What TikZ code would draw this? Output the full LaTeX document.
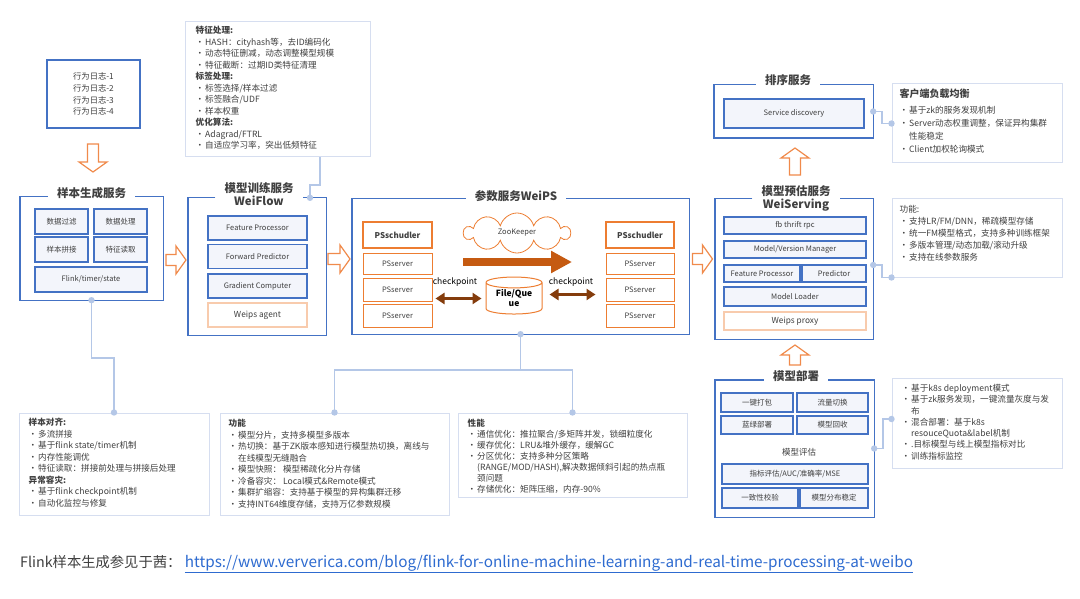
\documentclass[tikz,border=0pt]{standalone}
\usepackage{fontspec}
\setmainfont{Noto Sans CJK SC}
\usetikzlibrary{arrows.meta,shapes.geometric,shapes.symbols}

\definecolor{boxblue}{HTML}{4472C4}
\definecolor{cellfill}{HTML}{F3F5FB}
\definecolor{noteline}{HTML}{D6DEF0}
\definecolor{linkline}{HTML}{B4C7E7}
\definecolor{flowor}{HTML}{F08A4B}
\definecolor{psor}{HTML}{ED7D31}
\definecolor{paleor}{HTML}{F8CBAD}
\definecolor{bigor}{HTML}{C55A11}
\definecolor{ckbrown}{HTML}{843C0C}
\definecolor{ink}{HTML}{404040}
\definecolor{urlblue}{HTML}{2E6BD0}

\newcommand{\bul}[1]{\makebox[9.5pt][l]{•}#1}
\newcommand{\bcont}[1]{\hspace*{9.5pt}#1}

\tikzset{
  framebox/.style={inner sep=0pt},
  frame/.style={draw=boxblue, line width=1.4pt},
  frame title/.style={inner xsep=9pt, inner ysep=0pt, align=center, text=ink,
    font=\fontsize{11.5}{13.5}\selectfont\bfseries},
  logbox/.style={draw=boxblue, line width=1.3pt, inner sep=0pt, align=center,
    text=ink, font=\fontsize{8.3}{11.8}\selectfont},
  cell/.style={draw=boxblue, fill=cellfill, line width=1.1pt, inner sep=0pt,
    text=ink, font=\fontsize{7.5}{9}\selectfont},
  agentcell/.style={cell, draw=paleor, fill=white, font=\fontsize{8.3}{9}\selectfont},
  pscell/.style={draw=psor, fill=white, line width=1pt, inner sep=0pt,
    text=ink, font=\fontsize{7.5}{9}\selectfont},
  schcell/.style={pscell, line width=2.6pt, font=\fontsize{8}{9}\selectfont\bfseries},
  note/.style={draw=noteline, line width=1pt, inner sep=0pt},
  notetext/.style={anchor=north west, inner sep=0pt, align=left, text=ink,
    font=\fontsize{8.6}{11.5}\selectfont},
  link/.style={draw=linkline, line width=1.5pt},
  linkdot/.style={fill=linkline},
  ckpt/.style={draw=ckbrown, line width=3.5pt,
    {Triangle[length=9pt,width=11pt]}-{Triangle[length=9pt,width=11pt]}},
  flow arrow/.pic={
    \draw[draw=flowor, fill=white, line width=1.2pt, line join=miter]
      (-#1,-5.5) -- (#1-10,-5.5) -- (#1-10,-14) -- (#1,0) -- (#1-10,14)
      -- (#1-10,5.5) -- (-#1,5.5) -- cycle;
  }
}

\begin{document}
\begin{tikzpicture}[x=1pt,y=-1pt]

  \path[fill=white] (0,0) rectangle (1080,599);
  \useasboundingbox (0,0) rectangle (1080,599);

  % Define nodes
  % logs and sample service
  \node[logbox, minimum width=93, minimum height=68] (logs) at (93.5,94)
    {行为日志-1\\行为日志-2\\行为日志-3\\行为日志-4};
  \node[frame title] (smpt) at (91.5,193) {样本生成服务};
  \node[framebox, minimum width=143, minimum height=103] (smp) at (91.5,248.5) {};
  \node[cell, minimum width=53, minimum height=25] (filt) at (61.5,221.5) {数据过滤};
  \node[cell, minimum width=53, minimum height=25] (proc) at (120.5,221.5) {数据处理};
  \node[cell, minimum width=53, minimum height=25] (join) at (61.5,249.5) {样本拼接};
  \node[cell, minimum width=53, minimum height=25] (read) at (120.5,249.5) {特征读取};
  \node[cell, minimum width=112, minimum height=25] (flink) at (91,279.5) {Flink/timer/state};

  % training service
  \node[frame title] (wft) at (259,194) {模型训练服务\\WeiFlow};
  \node[framebox, minimum width=138, minimum height=137] (wf) at (257,266.5) {};
  \node[cell, minimum width=99, minimum height=24] (fp) at (257.5,228) {Feature Processor};
  \node[cell, minimum width=99, minimum height=24] (fwd) at (257.5,256.5) {Forward Predictor};
  \node[cell, minimum width=99, minimum height=24] (grad) at (257.5,286) {Gradient Computer};
  \node[agentcell, minimum width=99, minimum height=24] (agent) at (257.5,315) {Weips agent};

  % parameter service
  \node[frame title] (pst) at (516,196) {参数服务WeiPS};
  \node[framebox, minimum width=337, minimum height=135] (ps) at (520.5,266.5) {};
  \node[schcell, minimum width=69, minimum height=26] (schl) at (397.5,235) {PSschudler};
  \node[pscell, minimum width=69, minimum height=21] (psl1) at (397.5,263.5) {PSserver};
  \node[pscell, minimum width=69, minimum height=23] (psl2) at (397.5,289.5) {PSserver};
  \node[pscell, minimum width=69, minimum height=23] (psl3) at (397.5,315.5) {PSserver};
  \node[schcell, minimum width=68, minimum height=26] (schr) at (640,235) {PSschudler};
  \node[pscell, minimum width=68, minimum height=21] (psr1) at (640,263.5) {PSserver};
  \node[pscell, minimum width=68, minimum height=23] (psr2) at (640,289.5) {PSserver};
  \node[pscell, minimum width=68, minimum height=23] (psr3) at (640,315.5) {PSserver};
  \node[cloud, cloud puffs=10, aspect=2.6, draw=psor, line width=0.8pt, inner sep=0pt,
    minimum width=106, minimum height=40, text=ink, font=\fontsize{7.5}{9}\selectfont]
    (zk) at (517,233) {ZooKeeper};
  \node[cylinder, shape border rotate=90, aspect=0.3, draw=psor, line width=1pt,
    fill=white, inner sep=0pt, minimum width=56, minimum height=37, align=center,
    font=\fontsize{8.5}{10}\selectfont\bfseries] (fq) at (514,298.5) {File/Que\\ue};
  \node[text=black, font=\fontsize{8.5}{10}\selectfont] (ckl) at (455,282) {checkpoint};
  \node[text=black, font=\fontsize{8.5}{10}\selectfont] (ckr) at (571,282) {checkpoint};
  \coordinate (bigs) at (463,262);
  \coordinate (bige) at (572,262);

  % serving side
  \node[frame title] (rkt) at (788,80) {排序服务};
  \node[framebox, minimum width=159, minimum height=53] (rk) at (793.5,111.5) {};
  \node[cell, minimum width=140, minimum height=29] (sd) at (794,113.5) {Service discovery};

  \node[frame title] (wst) at (796,198.5) {模型预估服务\\WeiServing};
  \node[framebox, minimum width=158, minimum height=140] (ws) at (794,269) {};
  \node[cell, minimum width=142, minimum height=17] (rpc) at (795,225.5) {fb thrift rpc};
  \node[cell, minimum width=142, minimum height=17] (mvm) at (795,249.5) {Model/Version Manager};
  \node[cell, minimum width=76, minimum height=17] (wsfp) at (762,273.5) {Feature Processor};
  \node[cell, minimum width=64, minimum height=17] (pred) at (834,273.5) {Predictor};
  \node[cell, minimum width=142, minimum height=19] (ldr) at (795,296.5) {Model Loader};
  \node[agentcell, minimum width=142, minimum height=18] (proxy) at (795,321) {Weips proxy};

  \node[frame title] (dpt) at (796,376) {模型部署};
  \node[framebox, minimum width=159, minimum height=137] (dp) at (794.5,448.5) {};
  \node[cell, minimum width=72, minimum height=19] (pack) at (757,402.5) {一键打包};
  \node[cell, minimum width=71, minimum height=19] (flow) at (832.5,402.5) {流量切换};
  \node[cell, minimum width=72, minimum height=18] (bgd) at (757,425) {蓝绿部署};
  \node[cell, minimum width=71, minimum height=18] (recl) at (832.5,425) {模型回收};
  \node[text=ink, font=\fontsize{8.5}{10}\selectfont] (evl) at (799,452) {模型评估};
  \node[cell, minimum width=146, minimum height=20] (metric) at (795,474) {指标评估/AUC/准确率/MSE};
  \node[cell, minimum width=76, minimum height=20] (cons) at (760,498) {一致性校验};
  \node[cell, minimum width=68, minimum height=20] (dist) at (834,498) {模型分布稳定};

  % notes
  \node[note, minimum width=185, minimum height=135] (fex) at (277.5,89.5) {};
  \node[notetext] at ([shift={(11,4.5)}]fex.north west) {\textbf{特征处理:}\\
    \bul{HASH：cityhash等，去ID编码化}\\
    \bul{动态特征删减，动态调整模型规模}\\
    \bul{特征截断：过期ID类特征清理}\\
    \textbf{标签处理:}\\
    \bul{标签选择/样本过滤}\\
    \bul{标签融合/UDF}\\
    \bul{样本权重}\\
    \textbf{优化算法:}\\
    \bul{Adagrad/FTRL}\\
    \bul{自适应学习率，突出低频特征}};

  \node[note, minimum width=190, minimum height=102] (bl) at (114,464) {};
  \node[notetext] at ([shift={(10,5.5)}]bl.north west) {\textbf{样本对齐:}\\
    \bul{多流拼接}\\
    \bul{基于flink state/timer机制}\\
    \bul{内存性能调优}\\
    \bul{特征读取：拼接前处理与拼接后处理}\\
    \textbf{异常容灾:}\\
    \bul{基于flink checkpoint机制}\\
    \bul{自动化监控与修复}};

  \node[note, minimum width=229, minimum height=102] (bm) at (334.5,464) {};
  \node[notetext] at ([shift={(9,6.5)}]bm.north west) {\textbf{功能}\\
    \bul{模型分片，支持多模型多版本}\\
    \bul{热切换：基于ZK版本感知进行模型热切换，离线与}\\
    \bcont{在线模型无缝融合}\\
    \bul{模型快照： 模型稀疏化分片存储}\\
    \bul{冷备容灾： Local模式\&Remote模式}\\
    \bul{集群扩缩容：支持基于模型的异构集群迁移}\\
    \bul{支持INT64维度存储，支持万亿参数规模}};

  \node[note, minimum width=229, minimum height=84] (br) at (572.5,455) {};
  \node[notetext, font=\fontsize{8.6}{11}\selectfont] at ([shift={(10,6.5)}]br.north west) {\textbf{性能}\\
    \bul{通信优化：推拉聚合/多矩阵并发，锁细粒度化}\\
    \bul{缓存优化：LRU\&堆外缓存，缓解GC}\\
    \bul{分区优化：支持多种分区策略}\\
    \bcont{(RANGE/MOD/HASH),解决数据倾斜引起的热点瓶}\\
    \bcont{颈问题}\\
    \bul{存储优化：矩阵压缩，内存-90\%}};

  \node[note, minimum width=170, minimum height=79] (cli) at (977,123.5) {};
  \node[notetext, font=\fontsize{8.6}{13}\selectfont] at ([shift={(8,5)}]cli.north west)
    {{\fontsize{10}{12}\selectfont\bfseries 客户端负载均衡}\\[3pt]
    \bul{基于zk的服务发现机制}\\
    \bul{Server动态权重调整，保证异构集群}\\
    \bcont{性能稳定}\\
    \bul{Client加权轮询模式}};

  \node[note, minimum width=170, minimum height=78] (fn) at (977,238) {};
  \node[notetext, font=\fontsize{8.6}{12}\selectfont] at ([shift={(8,6.5)}]fn.north west) {功能:\\
    \bul{支持LR/FM/DNN，稀疏模型存储}\\
    \bul{统一FM模型格式，支持多种训练框架}\\
    \bul{多版本管理/动态加载/滚动升级}\\
    \bul{支持在线参数服务}};

  \node[note, minimum width=170, minimum height=90] (dpn) at (977,423) {};
  \node[notetext, font=\fontsize{8.6}{11.3}\selectfont] at ([shift={(10,6.5)}]dpn.north west) {%
    \bul{基于k8s deployment模式}\\
    \bul{基于zk服务发现，一键流量灰度与发}\\
    \bcont{布}\\
    \bul{混合部署：基于k8s}\\
    \bcont{resouceQuota\&label机制}\\
    \bul{.目标模型与线上模型指标对比}\\
    \bul{训练指标监控}};

  % footer
  \node[anchor=base west, inner sep=0pt, text=ink, font=\fontsize{14.3}{16}\selectfont]
    (src) at (20,567) {Flink样本生成参见于茜：};
  \node[anchor=base west, inner sep=0pt, text=urlblue, font=\fontsize{15.3}{17}\selectfont]
    (url) at ([xshift=3]src.base east) {\underline{https://www.ververica.com/blog/flink-for-online-machine-learning-and-real-time-processing-at-weibo}};

  % Frames with a gap for the title
  \draw[frame] (smpt.west |- smp.north) -- (smp.north west) -- (smp.south west)
    -- (smp.south east) -- (smp.north east) -- (smpt.east |- smp.north);
  \draw[frame] (wft.west |- wf.north) -- (wf.north west) -- (wf.south west)
    -- (wf.south east) -- (wf.north east) -- (wft.east |- wf.north);
  \draw[frame] (pst.west |- ps.north) -- (ps.north west) -- (ps.south west)
    -- (ps.south east) -- (ps.north east) -- (pst.east |- ps.north);
  \draw[frame] (rkt.west |- rk.north) -- (rk.north west) -- (rk.south west)
    -- (rk.south east) -- (rk.north east) -- (rkt.east |- rk.north);
  \draw[frame] (wst.west |- ws.north) -- (ws.north west) -- (ws.south west)
    -- (ws.south east) -- (ws.north east) -- (wst.east |- ws.north);
  \draw[frame] (dpt.west |- dp.north) -- (dp.north west) -- (dp.south west)
    -- (dp.south east) -- (dp.north east) -- (dpt.east |- dp.north);

  % Connect the nodes
  \pic[rotate=-90] at (93,158) {flow arrow=14};
  \pic at (176,260) {flow arrow=10};
  \pic at (339,259) {flow arrow=11};
  \pic at (702.5,259) {flow arrow=10};
  \pic[rotate=90] at (795,161.5) {flow arrow=13.5};
  \pic[rotate=90] at (795,355) {flow arrow=10};

  \draw[bigor, line width=8pt, -{Triangle[length=21pt,width=21pt]}] (bigs) -- (bige);
  \draw[ckpt] ([xshift=3]psl2.east |- fq.west) -- ([xshift=-4]fq.west);
  \draw[ckpt] ([xshift=7,yshift=4]fq.east) -- ([xshift=-10,yshift=4]psr2.west |- fq.east);

  \draw[link] (smp.south) -- ++(0,58) -| (bl.north);
  \draw[link] (ps.south) -- ++(0,36) -| (bm.north);
  \draw[link] (ps.south) -- ++(0,36) -| (br.north);
  \draw[link] (fex.south -| 320,0) -- (320,185) -- (310,185) -- (wf.north -| 310,0);
  \draw[link] (rk.east) -- ++(9,0) |- (cli.west);
  \draw[link] ([yshift=4]ws.east) -- ++(9,0) |- (fn.south west);
  \draw[link] (dp.east) -- ++(9,0) |- ([yshift=4]dpn.west);
  \foreach \p in {smp.south, bl.north, ps.south, bm.north, br.north, rk.east, cli.west,
      fn.south west, dp.east}
    \fill[linkdot] (\p) circle (3.2pt);
  \fill[linkdot] ([yshift=4]ws.east) circle (3.2pt);
  \fill[linkdot] ([yshift=4]dpn.west) circle (3.2pt);
  \fill[linkdot] (wf.north -| 310,0) circle (3.2pt);

\end{tikzpicture}
\end{document}
